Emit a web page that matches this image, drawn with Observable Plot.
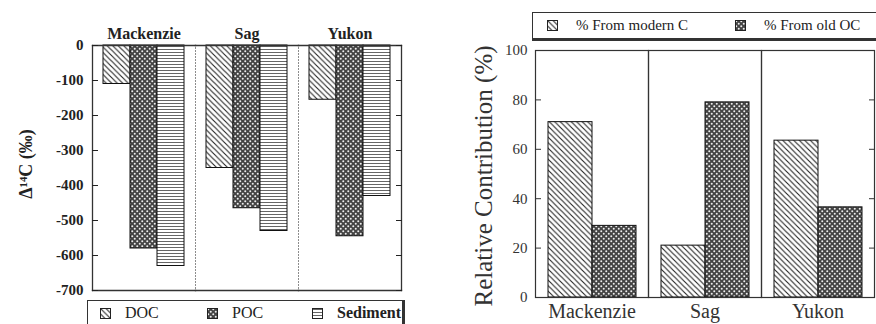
<!DOCTYPE html>
<html><head><meta charset="utf-8">
<script src="https://cdn.jsdelivr.net/npm/d3@7"></script>
<script src="https://cdn.jsdelivr.net/npm/@observablehq/plot@0.6"></script>
<style>
body{margin:0;background:#fff;font-family:"Liberation Serif","Times New Roman",serif;color:#222}
#root{position:relative;width:876px;height:324px;overflow:hidden;background:#fff}
#root svg text{font-family:"Liberation Serif","Times New Roman",serif !important}
.chart{position:absolute}
.legend{position:absolute;box-sizing:border-box;border:1px solid #333;background:#fff}
.legend .item{position:absolute;top:0;bottom:0;display:flex;align-items:center;white-space:nowrap;color:#222;font-family:"Liberation Serif","Times New Roman",serif}
.legend svg{display:block;flex:none}
</style></head><body>
<svg width="0" height="0" style="position:absolute">
  <defs>
    <pattern id="pat-diag" patternUnits="userSpaceOnUse" width="5.5" height="5.5">
      <rect width="5.5" height="5.5" fill="#fff"/>
      <path d="M0,0L5.5,5.5M-1,4.5L1,6.5M4.5,-1L6.5,1" stroke="#222" stroke-width="1.1"/>
    </pattern>
    <pattern id="pat-dots" patternUnits="userSpaceOnUse" width="5" height="5">
      <rect width="5" height="5" fill="#444"/>
      <circle cx="1.25" cy="1.25" r="1.0" fill="#eee"/>
      <circle cx="3.75" cy="3.75" r="1.0" fill="#eee"/>
    </pattern>
    <pattern id="pat-hlines" patternUnits="userSpaceOnUse" width="4" height="3">
      <rect width="4" height="3" fill="#fff"/>
      <path d="M0,1.5H4" stroke="#666" stroke-width="1"/>
    </pattern>
  </defs>
</svg>
<div id="root"></div>
<script>
// ---- data ----
const rivers = ["Mackenzie", "Sag", "Yukon"];
const isoSeries = ["DOC", "POC", "Sediment"];
const docValues = [-110, -350, -155];
const pocValues = [-580, -465, -545];
const sedimentValues = [-630, -530, -430];
const isoTicks = [0, -100, -200, -300, -400, -500, -600, -700];

const sourceSeries = ["% From modern C", "% From old OC"];
const modernValues = [71, 21, 63.5];
const oldValues = [29, 79, 36.5];
const pctTicks = [0, 20, 40, 60, 80, 100];

const isoLabel = "Δ¹⁴C (‰)";
const pctLabel = "Relative Contribution (%)";

// ---- styling maps ----
const isoPatterns = {"DOC": "url(#pat-diag)", "POC": "url(#pat-dots)", "Sediment": "url(#pat-hlines)"};
const srcPatterns = {"% From modern C": "url(#pat-diag)", "% From old OC": "url(#pat-dots)"};
const FONT = '"Liberation Serif","Times New Roman",serif';

const isoValues = [docValues, pocValues, sedimentValues];
const leftData = rivers.flatMap((r, i) => isoSeries.map((s, j) => ({river: r, series: s, value: isoValues[j][i], pattern: isoPatterns[s]})));
const srcValues = [modernValues, oldValues];
const rightData = rivers.flatMap((r, i) => sourceSeries.map((s, j) => ({river: r, series: s, value: srcValues[j][i], pattern: srcPatterns[s]})));

const root = document.getElementById("root");

// ---- left chart ----
const left = Plot.plot({
  width: 440, height: 300,
  marginLeft: 91, marginRight: 38, marginTop: 45, marginBottom: 10,
  style: {fontFamily: FONT, color: "#222", background: "transparent", overflow: "visible"},
  fx: {domain: rivers, padding: 0, label: null},
  x: {domain: isoSeries, paddingInner: 0, paddingOuter: 0.35, axis: null},
  y: {domain: [-700, 0], axis: null},
  color: {type: "identity"},
  marks: [
    Plot.frame({stroke: "#666", strokeDasharray: "1,2"}),
    Plot.barY(leftData, {fx: "river", x: "series", y: "value", fill: "pattern", stroke: "#111", strokeWidth: 1}),
    Plot.frame({anchor: "top", stroke: "#333", strokeWidth: 1.3}),
    Plot.frame({anchor: "bottom", stroke: "#333", strokeWidth: 1.3}),
    Plot.frame({anchor: "left", facetAnchor: "left", stroke: "#333", strokeWidth: 1.3}),
    Plot.frame({anchor: "right", facetAnchor: "right", stroke: "#333", strokeWidth: 1.3}),
    Plot.axisY(isoTicks, {anchor: "left", tickSize: -6, tickPadding: 15, tickFormat: d => String(d), fontSize: 15, fontWeight: "bold", label: null}),
    Plot.axisY(isoTicks, {anchor: "right", tickSize: -6, tickFormat: () => "", label: null}),
    Plot.axisFx({anchor: "top", tickSize: 0, tickPadding: 7, fontSize: 16, fontWeight: "bold", label: null}),
    Plot.text([isoLabel], {frameAnchor: "left", facetAnchor: "left", dx: -66, dy: -4, rotate: -90, textAnchor: "middle", fontSize: 18, fontWeight: "bold", fill: "#222"})
  ]
});
left.classList.add("chart");
left.style.left = "0px"; left.style.top = "0px";
root.appendChild(left);

// ---- right chart ----
const right = Plot.plot({
  width: 436, height: 284,
  marginLeft: 95, marginRight: 2, marginTop: 10, marginBottom: 27,
  style: {fontFamily: FONT, color: "#333", background: "transparent", overflow: "visible"},
  fx: {domain: rivers, padding: 0, label: null},
  x: {domain: sourceSeries, paddingInner: 0, paddingOuter: 0.26, axis: null},
  y: {domain: [0, 100], axis: null},
  color: {type: "identity"},
  marks: [
    Plot.barY(rightData, {fx: "river", x: "series", y: "value", fill: "pattern", stroke: "#111", strokeWidth: 1}),
    Plot.frame({stroke: "#333", strokeWidth: 1.2}),
    Plot.axisY(pctTicks, {anchor: "left", tickSize: -6, tickPadding: 14, fontSize: 15, label: null}),
    Plot.axisY(pctTicks, {anchor: "right", tickSize: -6, tickFormat: () => "", label: null}),
    Plot.axisFx({anchor: "bottom", tickSize: 0, tickPadding: 6, fontSize: 20, label: null}),
    Plot.text([pctLabel], {frameAnchor: "left", facetAnchor: "left", dx: -52, dy: 2, rotate: -90, textAnchor: "middle", fontSize: 25, fill: "#333"})
  ]
});
right.classList.add("chart");
right.style.left = "440px"; right.style.top = "40px";
root.appendChild(right);

// ---- legends ----
function swatch(fill, w, h) {
  const ns = "http://www.w3.org/2000/svg";
  const s = document.createElementNS(ns, "svg");
  s.setAttribute("width", w); s.setAttribute("height", h);
  const r = document.createElementNS(ns, "rect");
  r.setAttribute("x", 0.5); r.setAttribute("y", 0.5);
  r.setAttribute("width", w - 1); r.setAttribute("height", h - 1);
  r.setAttribute("fill", fill); r.setAttribute("stroke", "#222");
  s.appendChild(r);
  return s;
}
function legend(series, patterns, box, offsets, gap, fontSize, weights) {
  const d = document.createElement("div");
  d.className = "legend";
  Object.assign(d.style, box);
  series.forEach((s, i) => {
    const it = document.createElement("div");
    it.className = "item";
    it.style.left = offsets[i] + "px";
    it.style.fontSize = fontSize + "px";
    const sw = swatch(patterns[s], 11, 11);
    sw.style.marginRight = gap + "px";
    it.appendChild(sw);
    const t = document.createElement("span");
    t.textContent = s;
    if (weights && weights[i]) t.style.fontWeight = weights[i];
    it.appendChild(t);
    d.appendChild(it);
  });
  root.appendChild(d);
}
legend(isoSeries, isoPatterns,
  {left: "87px", top: "300px", width: "318px", height: "28px", borderRightWidth: "3px", borderBottomWidth: "3px"},
  [12, 119, 224], 14, 16, [null, null, "bold"]);
legend(sourceSeries, srcPatterns,
  {left: "532px", top: "12px", width: "350px", height: "29px", borderBottomWidth: "3px"},
  [14, 202], 18, 15);
</script>
</body></html>
